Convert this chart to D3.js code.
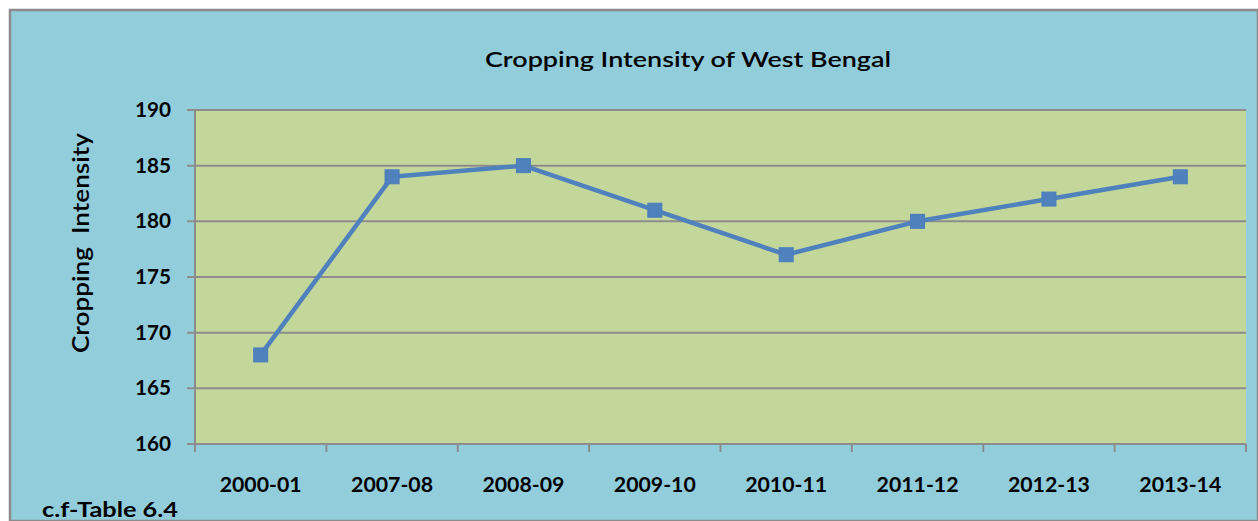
<!DOCTYPE html>
<html><head><meta charset="utf-8">
<script src="https://cdn.jsdelivr.net/npm/d3@7"></script>
<style>body{margin:0;background:#fff}svg{display:block}text{font-family:Lato,"Open Sans",sans-serif}</style>
</head><body>
<script>
const categories = ["2000-01","2007-08","2008-09","2009-10","2010-11","2011-12","2012-13","2013-14"];
const values = [168,184,185,181,177,180,182,184];
const yTicks = [160,165,170,175,180,185,190];
const title = "Cropping Intensity of West Bengal";
const yTitle = "Cropping\u00a0\u00a0Intensity";
const note = "c.f-Table 6.4";

const W=1258,H=521;
const svg=d3.select("body").append("svg").attr("width",W).attr("height",H);
svg.append("rect").attr("x",10).attr("y",10).attr("width",W-10).attr("height",H-10)
  .attr("fill","#92cddc").attr("stroke","#8c8c8c").attr("stroke-width",2.5);

const L=195,R=1246,T=110,B=444;
const x=d3.scaleBand().domain(categories).range([L,R]);
const y=d3.scaleLinear().domain([160,190]).range([B,T]);

svg.append("rect").attr("x",L).attr("y",T).attr("width",R-L).attr("height",B-T).attr("fill","#c4d79b");

svg.append("g").selectAll("line").data(yTicks).join("line")
  .attr("x1",L-8).attr("x2",R).attr("y1",d=>y(d)).attr("y2",d=>y(d))
  .attr("stroke","#8c8c8c").attr("stroke-width",2);
svg.append("line").attr("x1",L).attr("x2",L).attr("y1",T).attr("y2",B).attr("stroke","#8c8c8c").attr("stroke-width",2);
const bounds=categories.map(c=>x(c)).concat([R]);
svg.append("g").selectAll("line").data(bounds).join("line")
  .attr("x1",d=>d).attr("x2",d=>d).attr("y1",B).attr("y2",B+8)
  .attr("stroke","#8c8c8c").attr("stroke-width",2);

svg.append("g").selectAll("text").data(yTicks).join("text")
  .attr("x",171).attr("y",d=>y(d)+7).attr("text-anchor","end")
  .attr("font-size",20).attr("font-weight","bold").attr("fill","#000")
  .attr("textLength",36).attr("lengthAdjust","spacingAndGlyphs").text(d=>d);
svg.append("g").selectAll("text").data(categories).join("text")
  .attr("x",d=>x(d)+x.bandwidth()/2).attr("y",492).attr("text-anchor","middle")
  .attr("font-size",20).attr("font-weight","bold").attr("fill","#000")
  .attr("textLength",82).attr("lengthAdjust","spacingAndGlyphs").text(d=>d);

const pts=categories.map((c,i)=>[x(c)+x.bandwidth()/2,y(values[i])]);
svg.append("path").attr("d",d3.line()(pts)).attr("fill","none")
  .attr("stroke","#4f81bd").attr("stroke-width",4.5).attr("stroke-linejoin","round");
svg.append("g").selectAll("rect").data(pts).join("rect")
  .attr("x",d=>d[0]-7).attr("y",d=>d[1]-7).attr("width",14).attr("height",14)
  .attr("fill","#4f81bd").attr("stroke","#4a7ebb").attr("stroke-width",1);

svg.append("text").attr("x",688).attr("y",67).attr("text-anchor","middle")
  .attr("font-size",21).attr("font-weight",600).attr("fill","#000")
  .attr("textLength",406).attr("lengthAdjust","spacingAndGlyphs").text(title);
svg.append("text").attr("transform","translate(89,243) rotate(-90)").attr("text-anchor","middle")
  .attr("font-size",23).attr("font-weight",600).attr("fill","#000")
  .attr("textLength",220).attr("lengthAdjust","spacingAndGlyphs").text(yTitle);
svg.append("text").attr("x",42).attr("y",517).attr("font-size",21).attr("font-weight","bold")
  .attr("fill","#000").attr("textLength",136).attr("lengthAdjust","spacingAndGlyphs").text(note);
</script>
</body></html>
